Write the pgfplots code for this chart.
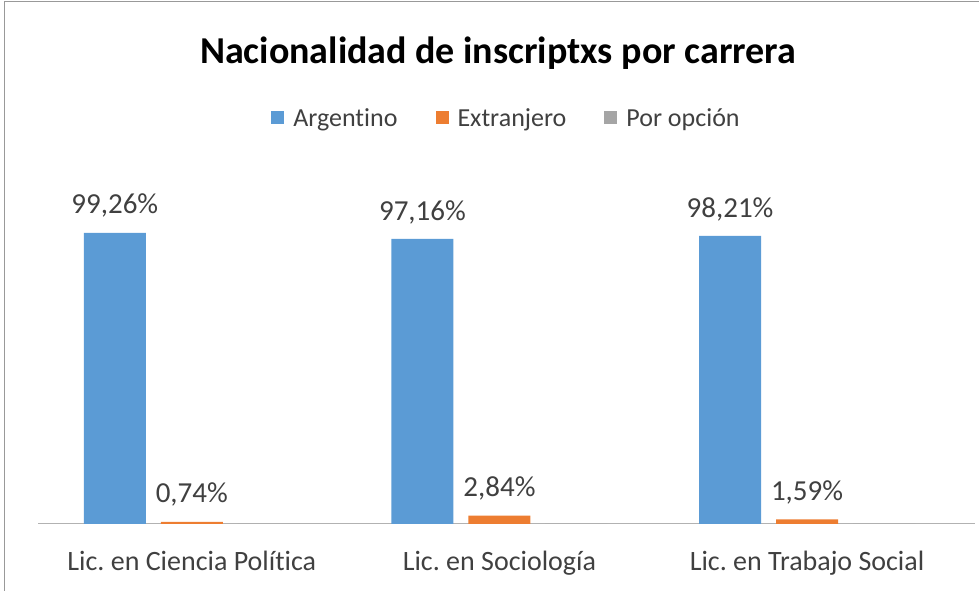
\documentclass[border=0pt]{standalone}
\usepackage{pgfplots}
\pgfplotsset{compat=1.18}
\usepackage{fontspec}
\setmainfont{Carlito}[Ligatures=NoCommon]
\definecolor{cblue}{HTML}{5B9BD5}
\definecolor{corange}{HTML}{ED7D31}
\definecolor{cgray}{HTML}{A5A5A5}
\definecolor{ctext}{HTML}{404040}
\frenchspacing
\begin{document}
\begin{tikzpicture}[x=1pt,y=1pt]
\useasboundingbox (0,0) rectangle (979,591);
\draw[black!40, line width=1pt] (4,0) -- (4,589) -- (979,589);
\node[font=\fontsize{38}{44}\selectfont\bfseries] at (498,538) {Nacionalidad de inscriptxs por carrera};
\begin{axis}[
  at={(38pt,67pt)}, anchor=south west,
  scale only axis, width=937pt, height=352pt,
  xmin=-0.5, xmax=2.546, ymin=0, ymax=120,
  axis x line*=bottom, axis y line=none,
  x axis line style={-, black!30, line width=1pt},
  xtick={0,1,2},
  xticklabels={Lic. en Ciencia Política\hspace{31pt}, Lic. en Sociología, Lic. en Trabajo Social},
  xticklabel style={font=\fontsize{28}{32}\selectfont, text=ctext, yshift=-24pt},
  major tick length=0pt,
  ytick=\empty,
  ybar, bar width=62pt,
  legend style={at={(0.5,1)}, anchor=center, yshift=54pt, legend columns=3, draw=none, fill=none,
    font=\fontsize{26}{30}\selectfont, text=ctext,
    /tikz/every even column/.append style={column sep=36pt}},
  legend image code/.code={\fill[#1] (0pt,-6.5pt) rectangle (13pt,6.5pt); \path (20pt,0pt);},
  every node near coord/.append style={font=\fontsize{29}{33}\selectfont, inner sep=0pt, yshift=15pt, ctext},
  point meta=explicit symbolic,
]
\addplot[fill=cblue, draw=none, bar shift=-77pt, nodes near coords] coordinates {(0,99.26) [99,26\%] (1,97.16) [97,16\%] (2,98.21) [98,21\%]};
\addlegendentry{Argentino}
\addplot[fill=corange, draw=none, bar shift=0pt, nodes near coords] coordinates {(0,0.74) [0,74\%] (1,2.84) [2,84\%] (2,1.59) [1,59\%]};
\addlegendentry{Extranjero}
\addplot[fill=cgray, draw=none, bar shift=77pt] coordinates {(0,0) (1,0) (2,0)};
\addlegendentry{Por opción}
\end{axis}
\end{tikzpicture}
\end{document}
